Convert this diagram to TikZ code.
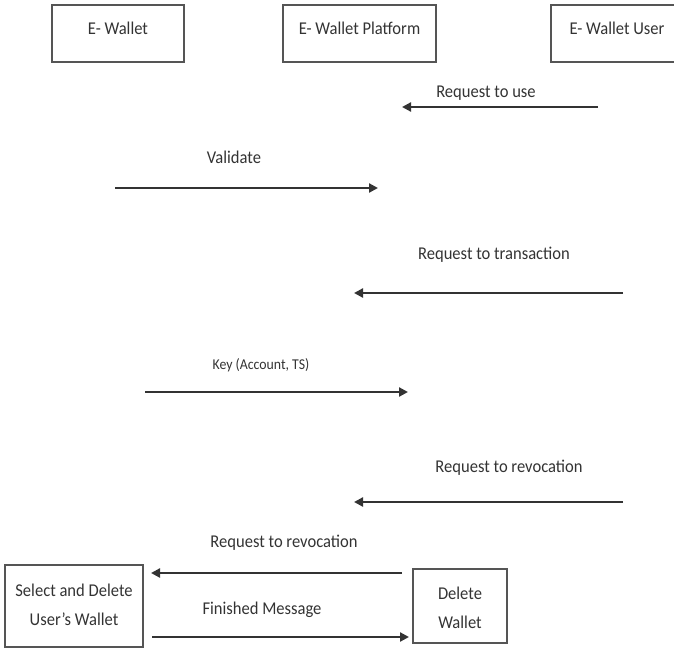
\documentclass[tikz,border=0pt]{standalone}
\usepackage{fontspec}
\setmainfont{Carlito}[FakeStretch=0.92]
\usetikzlibrary{arrows.meta}
\definecolor{ink}{HTML}{333333}
\definecolor{boxline}{HTML}{555555}
\tikzset{
  lbl/.style={font=\fontsize{18}{29}\selectfont, text=ink, inner sep=0pt, align=center},
  boxr/.style={draw=boxline, line width=2pt, rectangle, inner sep=0pt},
  msg/.style={draw=ink, line width=2.2pt, -{Triangle[length=9pt,width=9pt]}}
}
\begin{document}
\begin{tikzpicture}[x=1pt,y=-1pt]
\useasboundingbox (0,0) rectangle (674,649);
% top boxes
\node[boxr, minimum width=132pt, minimum height=57pt] (bw) at (118,33.5) {};
\node[boxr, minimum width=153pt, minimum height=57pt] (bp) at (359.5,33.5) {};
\node[boxr, minimum width=140pt, minimum height=57pt] (bu) at (621,33.5) {};
\node[lbl] (tw) at (118,28) {E- Wallet};
\node[lbl] (tp) at (359.5,28) {E- Wallet Platform};
\node[lbl] (tu) at (617,28) {E- Wallet User};
% bottom boxes
\node[boxr, minimum width=138pt, minimum height=82pt] (bs) at (74,606) {};
\node[boxr, minimum width=94pt, minimum height=74pt] (bd) at (460,606) {};
\node[lbl] (ts) at (74,605) {Select and Delete\\User's Wallet};
\node[lbl] (td) at (460,607.5) {Delete\\Wallet};
% arrow end points
\coordinate (a1s) at (598,107); \coordinate (a1e) at (402,107);
\coordinate (a2s) at (115,188); \coordinate (a2e) at (378,188);
\coordinate (a3s) at (623,293); \coordinate (a3e) at (354,293);
\coordinate (a4s) at (145,392); \coordinate (a4e) at (408,392);
\coordinate (a5s) at (623,502); \coordinate (a5e) at (354,502);
\coordinate (a6s) at (402,573); \coordinate (a6e) at (151,573);
\coordinate (a7s) at (152,637); \coordinate (a7e) at (409,637);
\draw[msg] (a1s) -- (a1e);
\draw[msg] (a2s) -- (a2e);
\draw[msg] (a3s) -- (a3e);
\draw[msg] (a4s) -- (a4e);
\draw[msg] (a5s) -- (a5e);
\draw[msg] (a6s) -- (a6e);
\draw[msg] (a7s) -- (a7e);
% labels
\node[lbl] (l1) at (486,93) {Request to use};
\node[lbl] (l2) at (234,157) {Validate};
\node[lbl] (l3) at (494,255) {Request to transaction};
\node[lbl, font=\fontsize{15}{18}\selectfont] (l4) at (261,365) {Key (Account, TS)};
\node[lbl] (l5) at (509,468) {Request to revocation};
\node[lbl] (l6) at (284,543) {Request to revocation};
\node[lbl] (l7) at (262,610) {Finished Message};
\end{tikzpicture}
\end{document}
